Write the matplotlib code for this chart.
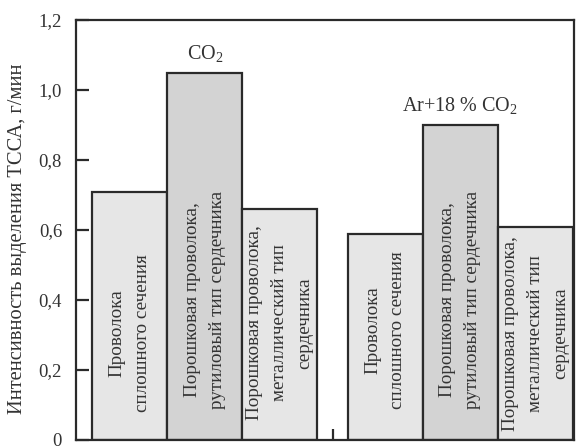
import matplotlib

matplotlib.use("Agg")
import matplotlib.pyplot as plt

plt.rcParams["font.family"] = ["Liberation Serif", "DejaVu Serif"]
plt.rcParams["mathtext.fontset"] = "custom"
plt.rcParams["mathtext.rm"] = "Liberation Serif"
plt.rcParams["mathtext.it"] = "Liberation Serif:italic"

# data
wire_labels = [
    "Проволока\nсплошного сечения",
    "Порошковая проволока,\nрутиловый тип сердечника",
    "Порошковая проволока,\nметаллический тип\nсердечника",
]
gas_labels = ["CO$_2$", "Ar+18 % CO$_2$"]
co2_values = [0.71, 1.05, 0.66]
ar_values = [0.59, 0.90, 0.61]
yticks = [0, 0.2, 0.4, 0.6, 0.8, 1.0, 1.2]
ytick_labels = ["0", "0,2", "0,4", "0,6", "0,8", "1,0", "1,2"]
text_y = [[0.305, 0.40, 0.335], [0.315, 0.40, 0.305]]

ink = "#2a2a2a"
text_ink = "#333333"
fills = ["#e6e6e6", "#d3d3d3", "#e6e6e6"]

fig = plt.figure(figsize=(5.76, 4.47), dpi=100)
ax = fig.add_axes([76 / 576, 7 / 447, 498 / 576, 420 / 447])

group_gap = 0.4
groups = [co2_values, ar_values]
for g, values in enumerate(groups):
    offset = g * (len(values) + group_gap)
    for i, v in enumerate(values):
        x = offset + i
        ax.bar(x, v, width=1.0, color=fills[i], edgecolor=ink, linewidth=1.6, zorder=2)
        ax.text(x, text_y[g][i], wire_labels[i], rotation=90, ha="center", va="center",
                multialignment="center", fontsize=13.8, color=text_ink, linespacing=1.62, zorder=3)
    top = max(values)
    ax.text(offset + 1, top + 0.055, gas_labels[g], ha="center", va="center",
            fontsize=14.5, color=text_ink)

left = -0.5 - 16 / 75
right = len(co2_values) + group_gap + len(ar_values) - 0.5 + 1 / 75
ax.set_xlim(left, right)
ax.set_ylim(0, 1.2)

ax.set_yticks(yticks)
ax.set_yticklabels(ytick_labels)
ax.tick_params(axis="y", direction="in", length=9, width=1.6, color=ink, pad=10,
               labelsize=13.5, labelcolor=text_ink)
mid = len(co2_values) - 0.5 + group_gap / 2
ax.set_xticks([mid])
ax.set_xticklabels([""])
ax.tick_params(axis="x", direction="in", length=8, width=1.6, color=ink)

for spine in ax.spines.values():
    spine.set_linewidth(1.6)
    spine.set_color(ink)

ax.set_ylabel("Интенсивность выделения ТССА, г/мин", fontsize=14.8, color=text_ink)
ax.yaxis.set_label_coords(-0.098, 0.48)

fig.savefig("out.png", dpi=100)
